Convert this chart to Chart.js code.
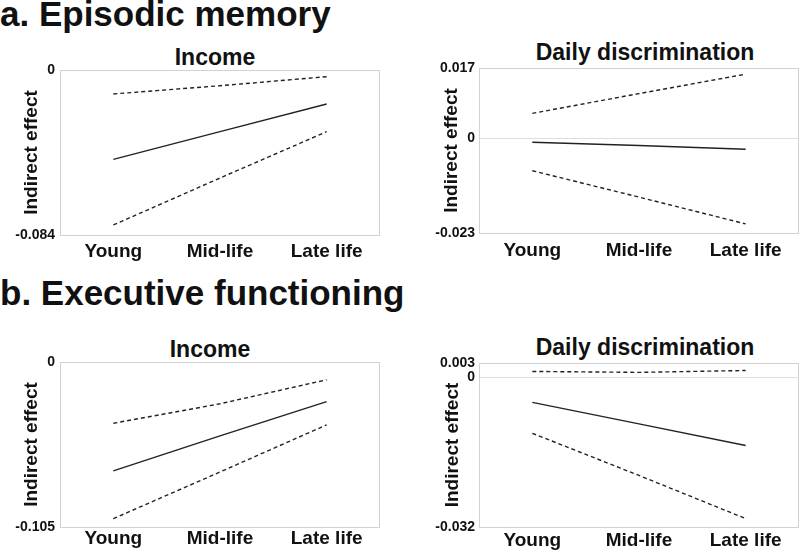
<!DOCTYPE html>
<html>
<head>
<meta charset="utf-8">
<script src="https://cdn.jsdelivr.net/npm/chart.js@4.4.1/dist/chart.umd.min.js"></script>
<style>
  html, body { margin: 0; padding: 0; background: #fff; }
  body { width: 800px; height: 553px; position: relative; overflow: hidden; font-family: "Liberation Sans", Arial, sans-serif; }
  .main { position: absolute; left: 0; font-weight: bold; font-size: 35px; line-height: 35px; color: #111; white-space: nowrap; }
  .ptitle { position: absolute; font-weight: bold; font-size: 23px; line-height: 23px; color: #111; white-space: nowrap; transform: translateX(-50%); }
  .wrap { position: absolute; }
</style>
</head>
<body>
<div class="main" style="top:-4px;">a. Episodic memory</div>
<div class="main" style="top:275px;">b. Executive functioning</div>
<div class="ptitle" style="left:215px; top:46px;">Income</div>
<div class="ptitle" style="left:645px; top:41px;">Daily discrimination</div>
<div class="ptitle" style="left:210px; top:338px;">Income</div>
<div class="ptitle" style="left:645px; top:336px;">Daily discrimination</div>

<div class="wrap" style="left:0; top:40px; width:400px; height:240px;"><canvas id="c1"></canvas></div>
<div class="wrap" style="left:400px; top:40px; width:400px; height:240px;"><canvas id="c2"></canvas></div>
<div class="wrap" style="left:0; top:330px; width:400px; height:223px;"><canvas id="c3"></canvas></div>
<div class="wrap" style="left:400px; top:330px; width:400px; height:223px;"><canvas id="c4"></canvas></div>

<script>
// ---------- data ----------
const categories = ['Young', 'Mid-life', 'Late life'];

// a. Episodic memory — Income
const emIncomeEst   = [-0.0455, -0.0314, -0.0173];
const emIncomeUpper = [-0.0122, -0.0080, -0.0034];
const emIncomeLower = [-0.0789, -0.0550, -0.0314];
const emIncomeTicks = [0, -0.084];
const emIncomeTickLabels = ['0', '-0.084'];

// a. Episodic memory — Daily discrimination
const emDiscEst   = [-0.0010, -0.0018, -0.0027];
const emDiscUpper = [0.0060, 0.0108, 0.0155];
const emDiscLower = [-0.0079, -0.0143, -0.0208];
const emDiscTicks = [0.017, 0, -0.023];
const emDiscTickLabels = ['0.017', '0', '-0.023'];

// b. Executive functioning — Income
const efIncomeEst   = [-0.0693, -0.0470, -0.0252];
const efIncomeUpper = [-0.0390, -0.0266, -0.0113];
const efIncomeLower = [-0.0997, -0.0700, -0.0400];
const efIncomeTicks = [0, -0.105];
const efIncomeTickLabels = ['0', '-0.105'];

// b. Executive functioning — Daily discrimination
const efDiscEst   = [-0.0054, -0.0100, -0.0146];
const efDiscUpper = [0.0012, 0.0010, 0.0014];
const efDiscLower = [-0.0120, -0.0210, -0.0302];
const efDiscTicks = [0.003, 0, -0.032];
const efDiscTickLabels = ['0.003', '0', '-0.032'];

// ---------- helpers ----------
const FONT = '"Liberation Sans", Arial, sans-serif';
const boxPlugin = {
  id: 'box',
  afterDraw(chart) {
    const a = chart.chartArea, ctx = chart.ctx;
    ctx.save();
    ctx.strokeStyle = '#d2d2d2';
    ctx.lineWidth = 1;
    ctx.strokeRect(Math.round(a.left) + 0.5, Math.round(a.top) + 0.5,
                   Math.round(a.right - a.left) - 1, Math.round(a.bottom - a.top));
    ctx.restore();
  }
};

function pts(arr) { return arr.map((v, i) => ({ x: i, y: v })); }

function makeChart(id, est, upper, lower, ticks, tickLabels, cfg) {
  const lineColor = '#222';
  new Chart(document.getElementById(id), {
    type: 'line',
    data: {
      datasets: [
        { data: pts(upper), borderColor: lineColor, borderWidth: 1.4, borderDash: [4, 3], pointRadius: 0, tension: 0, fill: false },
        { data: pts(est),   borderColor: lineColor, borderWidth: 1.4, pointRadius: 0, tension: 0, fill: false },
        { data: pts(lower), borderColor: lineColor, borderWidth: 1.4, borderDash: [4, 3], pointRadius: 0, tension: 0, fill: false }
      ]
    },
    options: {
      responsive: true,
      maintainAspectRatio: false,
      animation: false,
      events: [],
      layout: { padding: { left: 0, right: cfg.right, top: cfg.top, bottom: 0 } },
      plugins: { legend: { display: false }, tooltip: { enabled: false }, title: { display: false } },
      scales: {
        x: {
          type: 'linear',
          min: -0.5, max: 2.5,
          grid: { display: false, drawTicks: false },
          border: { display: false },
          afterBuildTicks: (s) => { s.ticks = categories.map((c, i) => ({ value: i })); },
          afterFit: (s) => { s.height = cfg.xh; },
          ticks: {
            padding: cfg.xpad,
            autoSkip: false,
            maxRotation: 0,
            color: '#111',
            font: { family: FONT, size: 19, weight: 'bold' },
            callback: (v) => categories[v]
          }
        },
        y: {
          min: ticks[ticks.length - 1], max: ticks[0],
          grid: { color: '#dedede', lineWidth: 1, drawTicks: false },
          border: { display: false },
          afterBuildTicks: (s) => { s.ticks = ticks.map(v => ({ value: v })); },
          afterFit: (s) => { s.width = cfg.yw; },
          ticks: {
            padding: cfg.ypad,
            color: '#111',
            font: { family: FONT, size: 14, weight: 'bold' },
            callback: (v) => { const k = ticks.indexOf(v); return k >= 0 ? tickLabels[k] : ''; }
          },
          title: {
            display: true,
            text: 'Indirect effect',
            color: '#111',
            font: { family: FONT, size: 19, weight: 'bold', lineHeight: 1 },
            padding: { top: cfg.tpad, bottom: 0 }
          }
        }
      }
    },
    plugins: [boxPlugin]
  });
}

makeChart('c1', emIncomeEst, emIncomeUpper, emIncomeLower, emIncomeTicks, emIncomeTickLabels,
  { yw: 60, right: 20, top: 30, xh: 45, xpad: 5, ypad: 5, tpad: 22 });
makeChart('c2', emDiscEst, emDiscUpper, emDiscLower, emDiscTicks, emDiscTickLabels,
  { yw: 79, right: 1, top: 28, xh: 47, xpad: 6, ypad: 4, tpad: 42 });
makeChart('c3', efIncomeEst, efIncomeUpper, efIncomeLower, efIncomeTicks, efIncomeTickLabels,
  { yw: 60, right: 20, top: 32, xh: 26, xpad: 0, ypad: 5, tpad: 22 });
makeChart('c4', efDiscEst, efDiscUpper, efDiscLower, efDiscTicks, efDiscTickLabels,
  { yw: 79, right: 1, top: 33, xh: 26, xpad: 2, ypad: 4, tpad: 43 });
</script>
</body>
</html>
